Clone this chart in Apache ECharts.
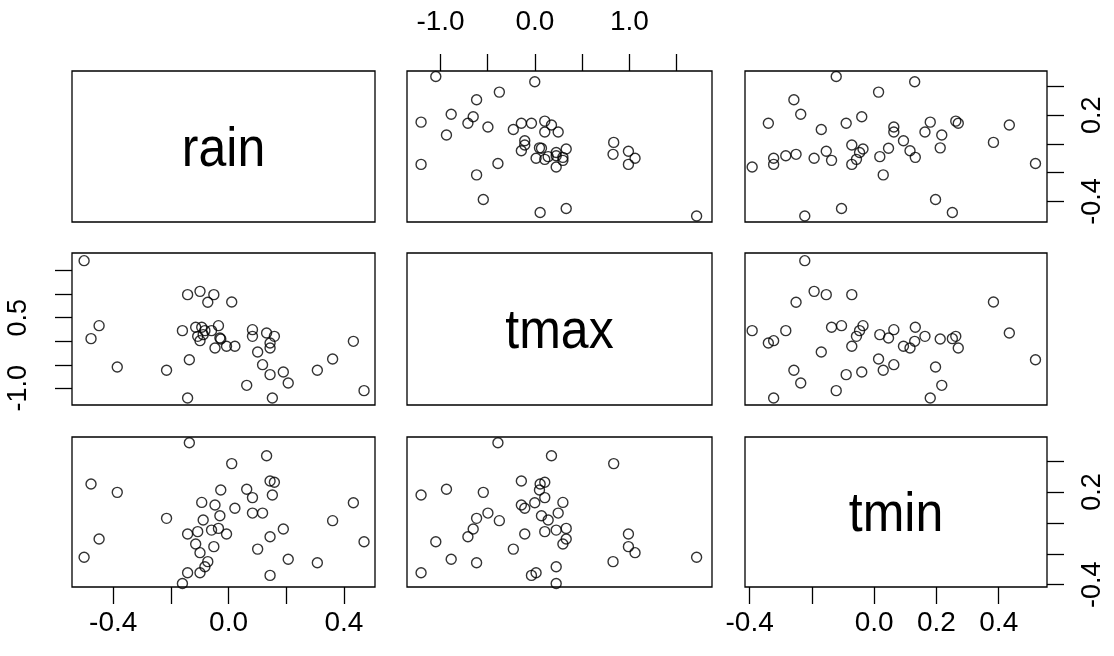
<!DOCTYPE html>
<html><head><meta charset="utf-8">
<script src="https://cdn.jsdelivr.net/npm/echarts@6/dist/echarts.min.js"></script>
<style>html,body{margin:0;padding:0;background:#fff}#c{width:1114px;height:656px}</style>
</head><body><div id="c"></div>
<script>
// ---- data ----
const varNames = ['rain', 'tmax', 'tmin'];
const rain = [-0.501,-0.477,-0.449,-0.386,-0.215,-0.160,-0.142,-0.142,-0.136,0.011,-0.072,-0.051,-0.099,-0.047,-0.007,0.022,-0.114,-0.035,-0.030,-0.027,-0.093,-0.099,-0.082,-0.107,-0.059,-0.088,0.063,0.470,0.433,0.361,0.308,0.207,0.190,0.152,0.144,0.118,0.101,0.132,0.144,0.144,0.159,0.083,0.083];
const tmax = [1.712,0.055,0.331,-0.547,-0.618,0.225,0.990,-1.206,-0.392,0.834,0.827,0.990,1.060,-0.144,-0.108,-0.108,0.296,0.331,0.069,0.048,0.296,0.012,0.225,0.104,0.225,0.140,-0.937,-1.050,-0.002,-0.377,-0.618,-0.887,-0.654,-1.206,-0.710,-0.498,-0.229,0.175,-0.037,-0.144,0.104,0.104,0.246];
const tmin = [-0.223,0.251,-0.105,0.197,0.029,-0.392,-0.072,-0.323,0.518,0.383,-0.251,-0.154,-0.193,0.115,-0.072,0.094,-0.137,-0.036,0.046,0.212,0.132,-0.323,-0.284,-0.057,-0.047,0.018,0.217,-0.122,0.130,0.014,-0.258,-0.236,-0.040,0.180,-0.090,0.063,-0.170,0.434,-0.340,0.270,0.262,0.163,0.063];

const rainTicks = [-0.4, -0.2, 0.0, 0.2, 0.4];
const tmaxTicks = [-1.0, -0.5, 0.0, 0.5, 1.0, 1.5];
const tminTicks = [-0.4, -0.2, 0.0, 0.2, 0.4];
const rainBottomLabels = [-0.4, 0.0, 0.4];
const rainRightLabels = [-0.4, 0.2];
const tmaxTopLabels = [-1.0, 0.0, 1.0];
const tmaxLeftLabels = [-1.0, 0.5];
const tminBottomLabels = [-0.4, 0.0, 0.2, 0.4];
const tminRightLabels = [-0.4, 0.2];

// ---- layout ----
const vars = [rain, tmax, tmin];
const ticks = [rainTicks, tmaxTicks, tminTicks];
const ranges = [[-0.543, 0.508], [-1.355, 1.875], [-0.415, 0.555]];
const cols = [[72, 303], [407, 305], [745, 302]];
const rows = [[71, 151], [253, 152], [437, 150]];
const FONT = '"Liberation Sans", Arial, sans-serif';

const grids = [], xAxes = [], yAxes = [], series = [];
const fmt = v => v.toFixed(1);

function axisBase(gi, vi, show) {
  return {
    type: 'value', gridIndex: gi, min: ranges[vi][0], max: ranges[vi][1],
    show: show, splitLine: { show: false }, axisLine: { show: false, onZero: false },
    axisTick: { show: show, inside: false, length: 17, customValues: ticks[vi],
                lineStyle: { color: '#000', width: 1.3 } },
    axisLabel: { show: false }
  };
}

let gi = 0;
for (let i = 0; i < 3; i++) {
  for (let j = 0; j < 3; j++) {
    grids.push({ left: cols[j][0], width: cols[j][1], top: rows[i][0], height: rows[i][1],
                 show: true, borderColor: '#000', borderWidth: 1.3, backgroundColor: 'transparent' });
    let xShow = false, xPos = 'bottom', xLabels = null, xMargin = 0;
    if (i === 0 && j === 1) { xShow = true; xPos = 'top'; xLabels = tmaxTopLabels; xMargin = 35; }
    if (i === 2 && j === 0) { xShow = true; xLabels = rainBottomLabels; xMargin = 22; }
    if (i === 2 && j === 2) { xShow = true; xLabels = tminBottomLabels; xMargin = 22; }
    const xa = axisBase(gi, j, xShow);
    xa.position = xPos;
    if (xShow) xa.axisLabel = { show: true, customValues: xLabels, formatter: fmt, fontSize: 28,
                                color: '#000', fontFamily: FONT, margin: xMargin };
    xAxes.push(xa);
    let yShow = false, yPos = 'left', yLabels = null, yMargin = 0;
    if (j === 0 && i === 1) { yShow = true; yLabels = tmaxLeftLabels; yMargin = 40; }
    if (j === 2 && i === 0) { yShow = true; yPos = 'right'; yLabels = rainRightLabels; yMargin = 32; }
    if (j === 2 && i === 2) { yShow = true; yPos = 'right'; yLabels = tminRightLabels; yMargin = 32; }
    const ya = axisBase(gi, i, yShow);
    ya.position = yPos;
    if (yShow) ya.axisLabel = { show: true, customValues: yLabels, formatter: fmt, fontSize: 27,
                                color: '#000', fontFamily: FONT, margin: yMargin, rotate: 90 };
    yAxes.push(ya);
    if (i !== j) {
      series.push({
        type: 'scatter', xAxisIndex: gi, yAxisIndex: gi,
        data: vars[j].map((v, k) => [v, vars[i][k]]),
        symbol: 'circle', symbolSize: 10,
        itemStyle: { color: 'rgba(0,0,0,0)', borderColor: '#000', borderWidth: 1.4 },
        emphasis: { disabled: true }, silent: true
      });
    }
    gi++;
  }
}

const graphics = varNames.map((name, k) => ({
  type: 'text',
  x: cols[k][0] + cols[k][1] / 2, y: rows[k][0] + rows[k][1] / 2 + 4,
  scaleY: 1.12, originX: 0, originY: 0,
  style: { text: name, fontSize: 50, fontFamily: FONT, fill: '#000',
           align: 'center', verticalAlign: 'middle' }
}));

const chart = echarts.init(document.getElementById('c'), null, { renderer: 'canvas' });
chart.setOption({
  animation: false, backgroundColor: '#fff',
  grid: grids, xAxis: xAxes, yAxis: yAxes, series: series, graphic: graphics
});
</script></body></html>
